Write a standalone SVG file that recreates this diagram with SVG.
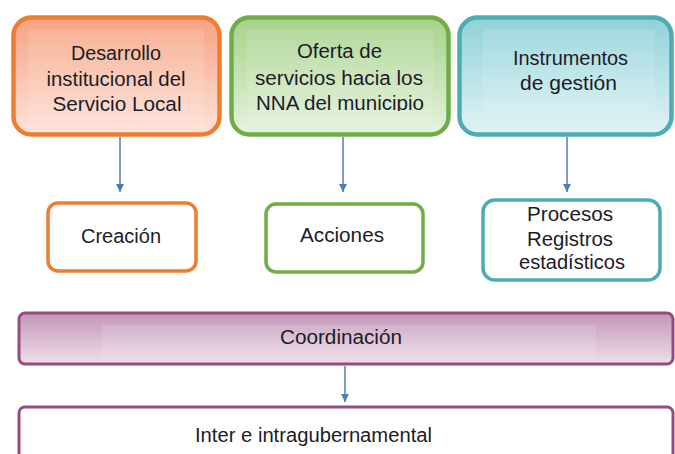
<svg xmlns="http://www.w3.org/2000/svg" width="675" height="454" viewBox="0 0 675 454">
<defs>
<linearGradient id="gO" x1="0" y1="0" x2="0" y2="1"><stop offset="0" stop-color="#F7A283"/><stop offset="1" stop-color="#FDE3D9"/></linearGradient>
<linearGradient id="gG" x1="0" y1="0" x2="0" y2="1"><stop offset="0" stop-color="#A6D28A"/><stop offset="1" stop-color="#E6F3DE"/></linearGradient>
<linearGradient id="gT" x1="0" y1="0" x2="0" y2="1"><stop offset="0" stop-color="#8FD2D8"/><stop offset="1" stop-color="#E2F3F5"/></linearGradient>
<linearGradient id="gP" x1="0" y1="0" x2="0" y2="1"><stop offset="0" stop-color="#C396B7"/><stop offset="1" stop-color="#EEDFEA"/></linearGradient>
<marker id="arr" markerWidth="8" markerHeight="8" refX="8" refY="4" orient="auto" markerUnits="userSpaceOnUse"><path d="M0,0 L8,4 L0,8 Z" fill="#4A7EBB"/></marker>
<clipPath id="c2"><rect x="231" y="16" width="217" height="95"/></clipPath>
</defs>
<style>
text{font-family:"Liberation Sans",Arial,sans-serif;font-size:20px;fill:#1c1c28;text-anchor:middle}
.inner{fill:#ffffff;opacity:0.12}
.conn line{stroke:#4A7EBB;stroke-width:1.5;marker-end:url(#arr)}
</style>
<rect width="675" height="454" fill="#ffffff"/>
<g id="n1">
<rect x="13.5" y="17.5" width="206" height="117" rx="18" fill="url(#gO)" stroke="#ED7D31" stroke-width="4.5"/>
<rect class="inner" x="28" y="30" width="176" height="98"/>
<text x="116" y="60" textLength="90" lengthAdjust="spacingAndGlyphs">Desarrollo</text>
<text x="116" y="85.5" textLength="139" lengthAdjust="spacingAndGlyphs">institucional del</text>
<text x="117" y="111" textLength="129" lengthAdjust="spacingAndGlyphs">Servicio Local</text>
</g>
<g id="n2">
<rect x="231.5" y="17.5" width="217" height="117" rx="18" fill="url(#gG)" stroke="#70AD47" stroke-width="4.5"/>
<rect class="inner" x="247" y="30" width="186" height="98"/>
<g clip-path="url(#c2)">
<text x="339.5" y="58" textLength="85" lengthAdjust="spacingAndGlyphs">Oferta de</text>
<text x="339" y="85" textLength="168" lengthAdjust="spacingAndGlyphs">servicios hacia los</text>
<text x="340" y="110" textLength="168" lengthAdjust="spacingAndGlyphs">NNA del municipio</text>
</g>
</g>
<g id="n3">
<rect x="459.5" y="17.5" width="212" height="117" rx="18" fill="url(#gT)" stroke="#4BACB6" stroke-width="4.5"/>
<rect class="inner" x="483" y="30" width="172" height="82"/>
<text x="570.5" y="65" textLength="115" lengthAdjust="spacingAndGlyphs">Instrumentos</text>
<text x="568.5" y="90" textLength="97" lengthAdjust="spacingAndGlyphs">de gestión</text>
</g>
<g id="n4">
<rect x="48" y="203" width="148" height="68" rx="10" fill="#ffffff" stroke="#ED7D31" stroke-width="3.5"/>
<text x="121" y="243" textLength="80" lengthAdjust="spacingAndGlyphs">Creación</text>
</g>
<g id="n5">
<rect x="266" y="204" width="157" height="68" rx="10" fill="#ffffff" stroke="#70AD47" stroke-width="3.5"/>
<text x="342" y="242" textLength="84" lengthAdjust="spacingAndGlyphs">Acciones</text>
</g>
<g id="n6">
<rect x="483" y="200" width="177" height="80" rx="12" fill="#ffffff" stroke="#4BACB6" stroke-width="3.5"/>
<text x="570" y="221" textLength="86" lengthAdjust="spacingAndGlyphs">Procesos</text>
<text x="570" y="246" textLength="86" lengthAdjust="spacingAndGlyphs">Registros</text>
<text x="572" y="269" textLength="106" lengthAdjust="spacingAndGlyphs">estadísticos</text>
</g>
<g id="n7">
<rect x="19" y="313" width="654" height="51" rx="6" fill="url(#gP)" stroke="#974A83" stroke-width="3"/>
<rect class="inner" x="102" y="325" width="494" height="32"/>
<text x="341" y="344" textLength="122" lengthAdjust="spacingAndGlyphs">Coordinación</text>
</g>
<g id="n8">
<rect x="19" y="407" width="654" height="60" rx="6" fill="#ffffff" stroke="#974A83" stroke-width="3"/>
<text x="313.5" y="442" textLength="237" lengthAdjust="spacingAndGlyphs">Inter e intragubernamental</text>
</g>
<g class="conn" id="connectors">
<line x1="120" y1="137" x2="120" y2="192"/>
<line x1="343" y1="137" x2="343" y2="192"/>
<line x1="567" y1="137" x2="567" y2="192"/>
<line x1="345" y1="366" x2="345" y2="402"/>
</g>
</svg>
